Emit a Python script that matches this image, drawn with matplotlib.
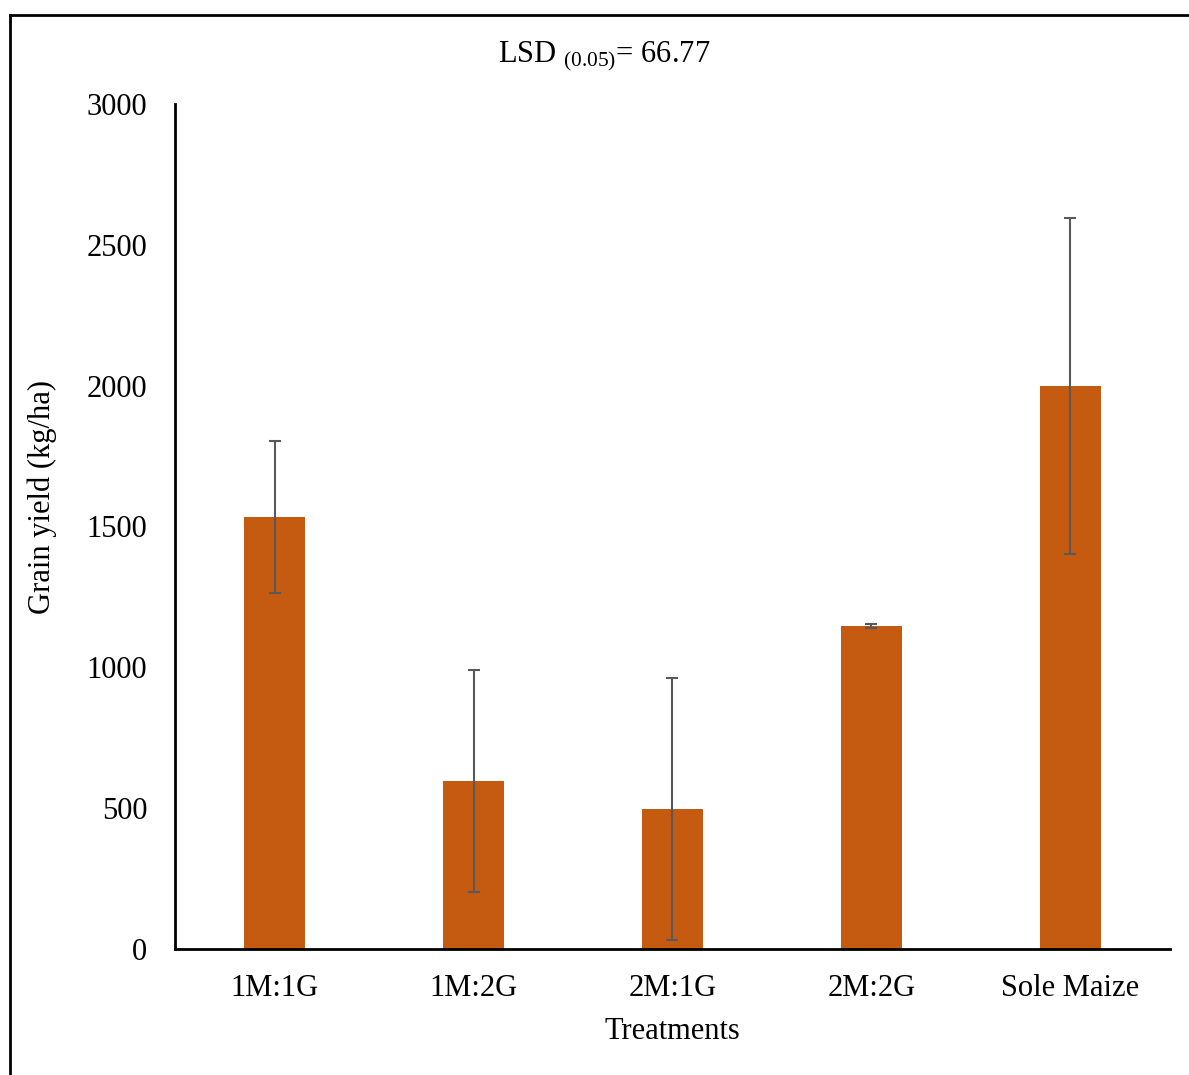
import matplotlib
matplotlib.use("Agg")
import matplotlib.pyplot as plt
from matplotlib.lines import Line2D

plt.rcParams['font.family'] = ['Liberation Serif', 'DejaVu Serif']
plt.rcParams['mathtext.fontset'] = 'custom'
plt.rcParams['mathtext.rm'] = 'Liberation Serif'
plt.rcParams['mathtext.it'] = 'Liberation Serif:italic'

treatments = ["1M:1G", "1M:2G", "2M:1G", "2M:2G", "Sole Maize"]
grain_yield = [1533, 596, 497, 1147, 1999]
yield_err = [270, 395, 465, 7, 597]

fig = plt.figure(figsize=(11.89, 10.75), dpi=100)
ax = fig.add_axes([0.1472, 0.1172, 0.8368, 0.7861])

xpos = range(len(treatments))
ax.bar(xpos, grain_yield, width=0.31, color="#C55A11", zorder=2)
ax.errorbar(xpos, grain_yield, yerr=yield_err, fmt="none", ecolor="#595959",
            elinewidth=1.5, capsize=4.5, capthick=1.5, zorder=3)

ax.set_xlim(-0.5, 4.5)
ax.set_ylim(0, 3000)
ax.set_yticks(range(0, 3001, 500))
ax.set_xticks(list(xpos))
ax.set_xticklabels(treatments)
ax.tick_params(axis="both", length=0, labelsize=22)
ax.tick_params(axis="y", pad=20)
ax.tick_params(axis="x", pad=18)
for s in ["top", "right"]:
    ax.spines[s].set_visible(False)
for s in ["left", "bottom"]:
    ax.spines[s].set_linewidth(2)
    ax.spines[s].set_color("black")

ax.set_xlabel("Treatments", fontsize=22, labelpad=10)
ax.set_ylabel("Grain yield (kg/ha)", fontsize=22)
ax.yaxis.set_label_coords(-0.119, 0.535)

fig.text(0.508, 0.948, r"LSD $_{\mathrm{(0.05)}}$= 66.77", fontsize=22,
         ha="center", va="center")

# outer border (top and left edges only show on the canvas)
fig.add_artist(Line2D([0.0084, 1.0], [0.986, 0.986], color="black", lw=2))
fig.add_artist(Line2D([0.0084, 0.0084], [0.0, 0.986], color="black", lw=2))

fig.savefig("out.png", dpi=100)
